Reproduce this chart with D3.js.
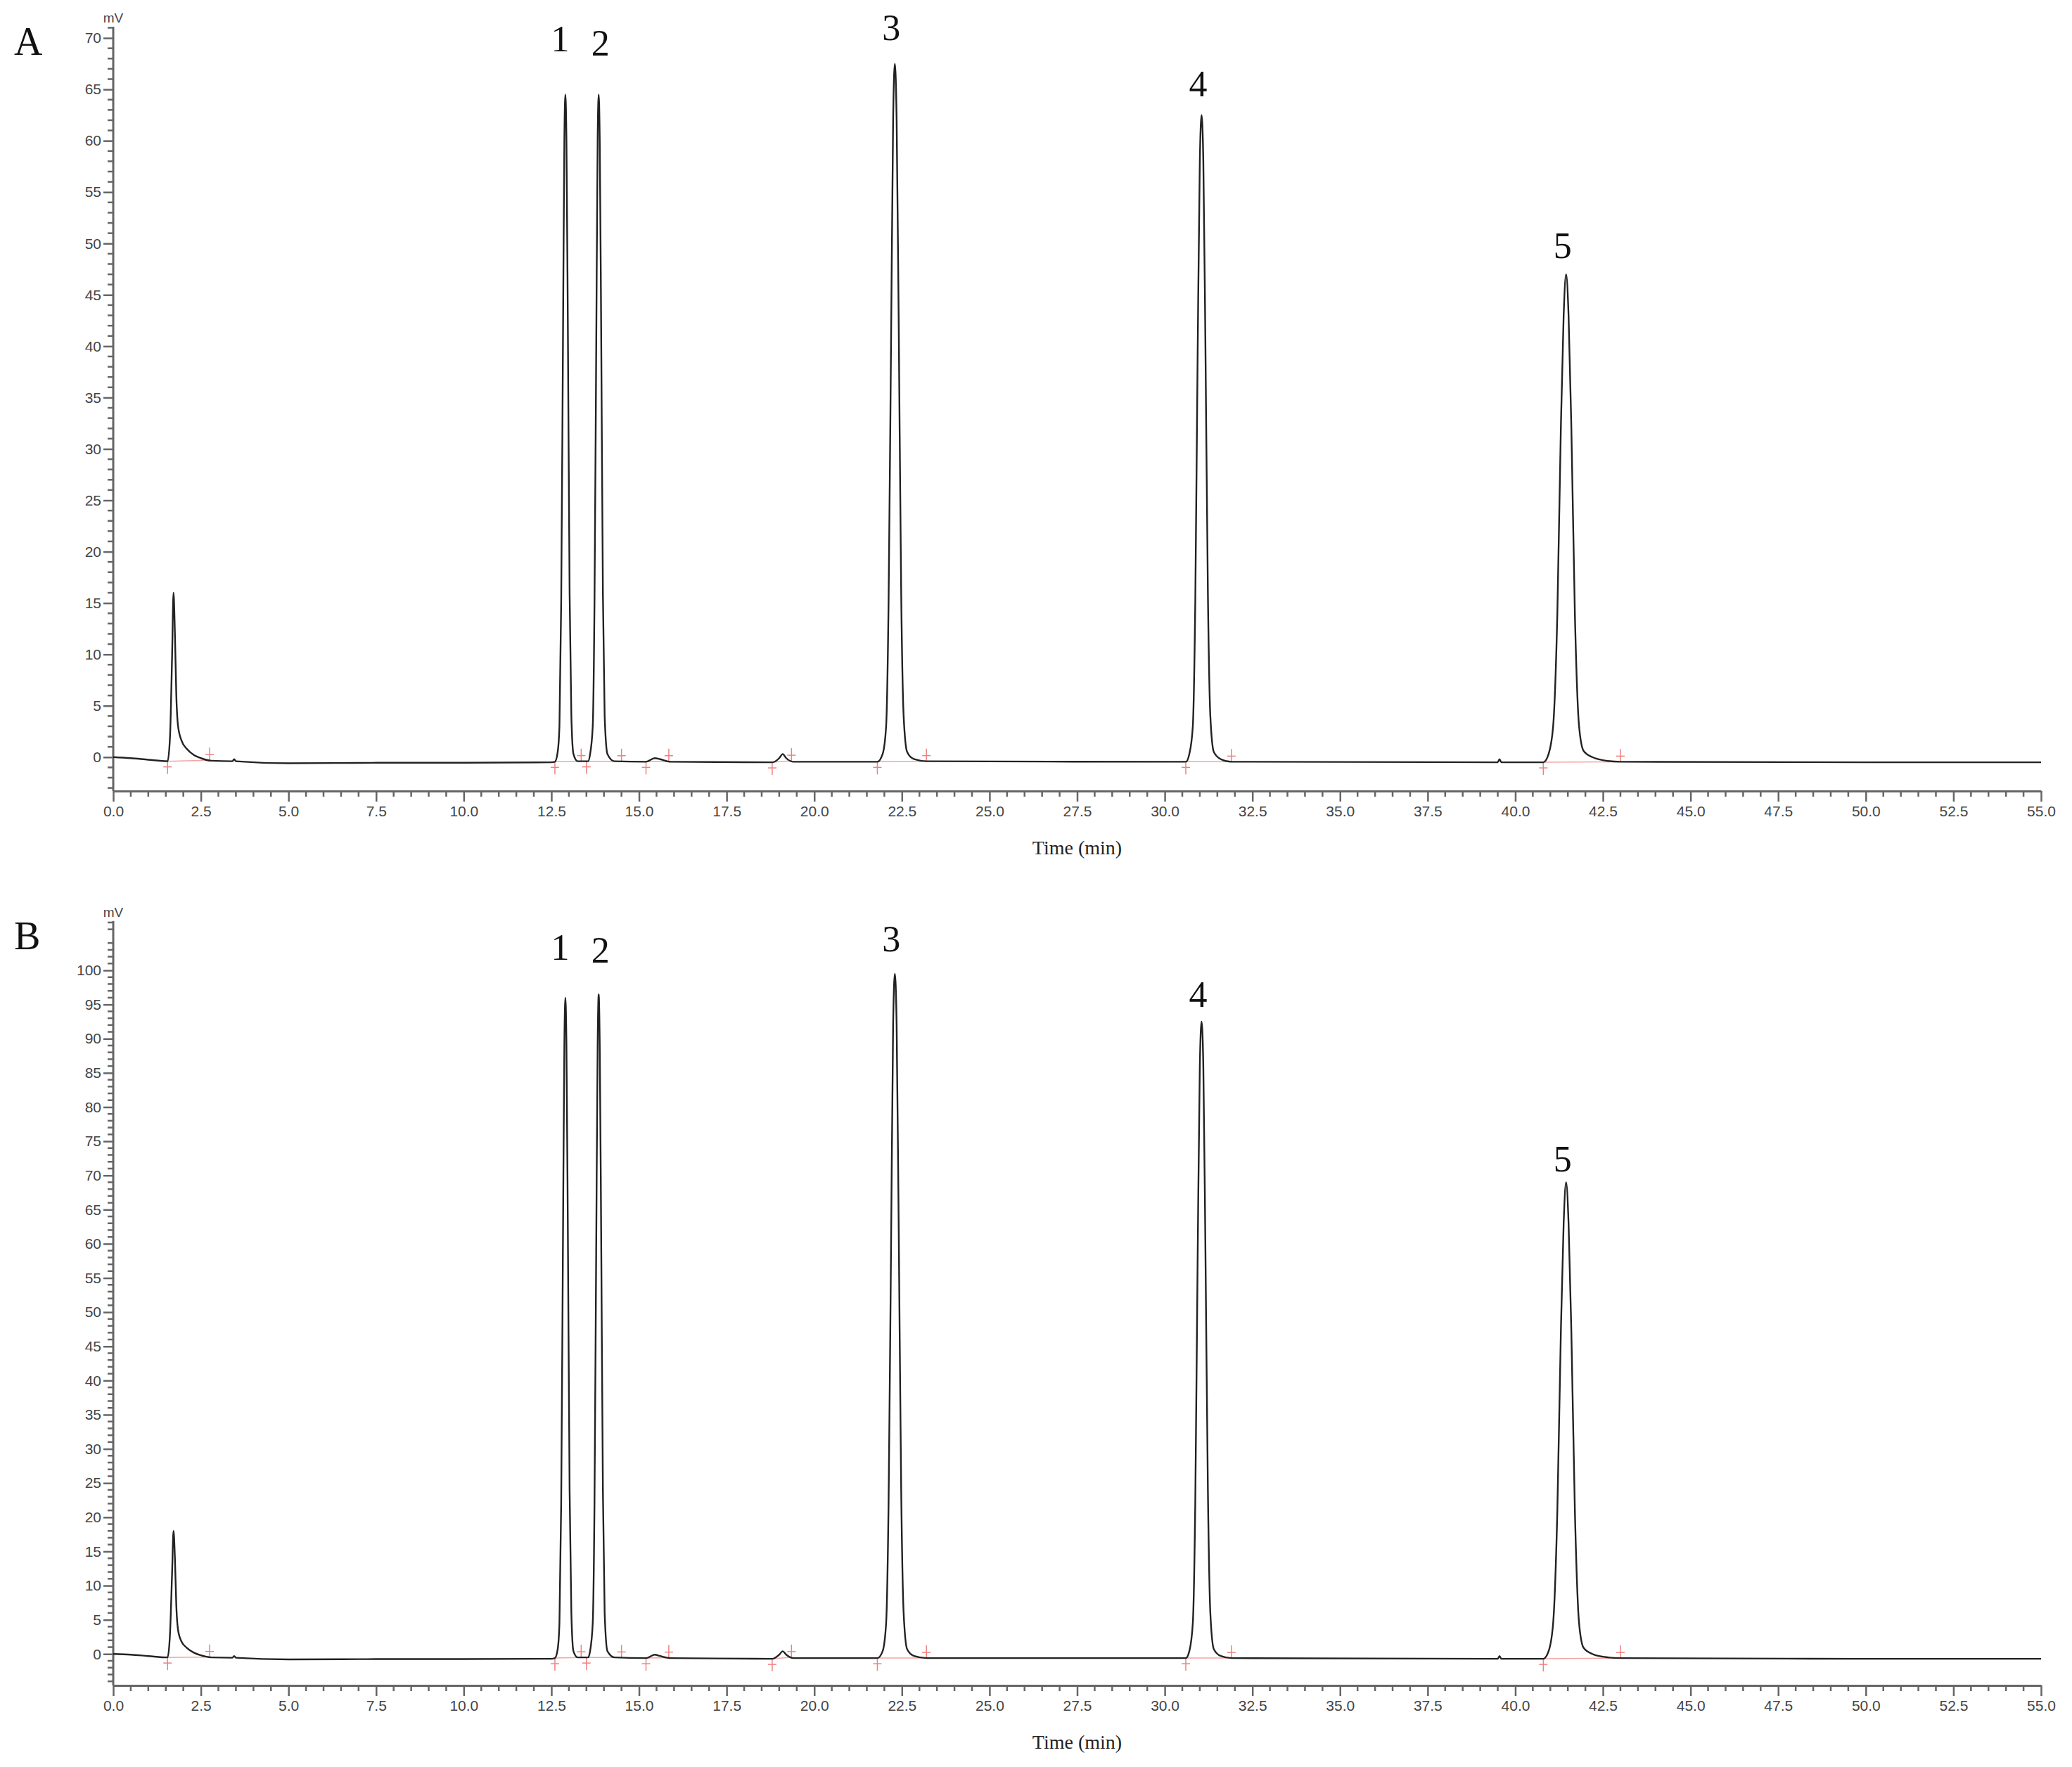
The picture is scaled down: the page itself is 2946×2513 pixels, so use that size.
<!DOCTYPE html>
<html>
<head>
<meta charset="utf-8">
<script src="https://cdn.jsdelivr.net/npm/d3@7"></script>
<style>
  body { margin: 0; background: #fff; }
  .tick text { font-family: "Liberation Sans", Arial, sans-serif; fill: #444; }
  .serif { font-family: "Liberation Serif", "Times New Roman", serif; }
</style>
</head>
<body>
<svg id="chart" width="2946" height="2513"></svg>
<script>
// trace points [time (min), mV]
const traceA = [[0,0],[0.5,-0.1],[1.0,-0.25],[1.55,-0.4],[1.62,2],[1.68,10],[1.72,16],[1.76,12],[1.8,6],[1.85,3],[1.95,1.6],[2.1,0.8],[2.3,0.2],[2.5,-0.1],[2.8,-0.35],[3.4,-0.4],[3.45,-0.2],[3.5,-0.4],[5,-0.6],[7.5,-0.55],[10,-0.55],[12.5,-0.5],
  [12.6,-0.45],[12.68,0.5],[12.73,3],[12.78,15],[12.83,40],[12.87,60],[12.9,64.5],[12.93,60],[12.97,42],[13.02,16],[13.07,4],[13.13,0.3],[13.25,-0.4],[13.55,-0.4],
  [13.6,0.2],[13.68,3],[13.73,15],[13.78,40],[13.82,60],[13.85,64.5],[13.88,60],[13.92,42],[13.97,16],[14.02,4],[14.1,0.3],[14.3,-0.4],[15.2,-0.45],[15.45,-0.1],[15.6,-0.2],[15.9,-0.45],[18.8,-0.5],[19.0,-0.1],[19.1,0.3],[19.2,-0.1],[19.4,-0.45],[21.8,-0.45],
  [21.95,0.3],[22.05,3],[22.12,15],[22.19,40],[22.25,62],[22.3,67.5],[22.35,62],[22.41,42],[22.48,16],[22.55,4],[22.65,0.5],[22.85,-0.2],[23.2,-0.4],
  [30.6,-0.45],[30.7,0.3],[30.8,3],[30.87,15],[30.94,40],[31.0,58],[31.05,62.5],[31.1,58],[31.16,40],[31.23,16],[31.3,4],[31.4,0.5],[31.6,-0.2],[31.9,-0.45],[39.5,-0.5],[39.55,-0.2],[39.6,-0.5],[40.8,-0.5],
  [40.95,0.3],[41.08,3],[41.2,14],[41.3,32],[41.38,43],[41.45,47],[41.52,43],[41.6,32],[41.7,14],[41.82,3],[41.95,0.6],[42.2,0],[42.5,-0.3],[43,-0.45],[50,-0.5],[55,-0.5]];

// trace points
const traceB = [[0,0],[0.5,-0.1],[1.0,-0.3],[1.55,-0.5],[1.62,3],[1.68,12],[1.72,18],[1.76,14],[1.8,7],[1.85,3.5],[1.95,1.8],[2.1,0.9],[2.3,0.2],[2.5,-0.2],[2.8,-0.5],[3.4,-0.55],[3.45,-0.3],[3.5,-0.55],[5,-0.8],[7.5,-0.75],[10,-0.75],[12.5,-0.7],
  [12.6,-0.6],[12.68,0.7],[12.73,4.5],[12.78,22],[12.83,60],[12.87,89],[12.9,96],[12.93,89],[12.97,62],[13.02,24],[13.07,6],[13.13,0.4],[13.25,-0.5],[13.55,-0.5],
  [13.6,0.3],[13.68,4.5],[13.73,22],[13.78,60],[13.82,89],[13.85,96.5],[13.88,89],[13.92,62],[13.97,24],[14.02,6],[14.1,0.4],[14.3,-0.5],[15.2,-0.6],[15.45,-0.1],[15.6,-0.3],[15.9,-0.6],[18.8,-0.7],[19.0,-0.1],[19.1,0.4],[19.2,-0.1],[19.4,-0.6],[21.8,-0.6],
  [21.95,0.4],[22.05,4.5],[22.12,22],[22.19,59],[22.25,92],[22.3,99.5],[22.35,92],[22.41,62],[22.48,24],[22.55,6],[22.65,0.7],[22.85,-0.3],[23.2,-0.6],
  [30.6,-0.6],[30.7,0.4],[30.8,4.5],[30.87,22],[30.94,59],[31.0,86],[31.05,92.5],[31.1,86],[31.16,59],[31.23,24],[31.3,6],[31.4,0.7],[31.6,-0.3],[31.9,-0.6],[39.5,-0.7],[39.55,-0.3],[39.6,-0.7],[40.8,-0.7],
  [40.95,0.4],[41.08,4.5],[41.2,21],[41.3,47],[41.38,63],[41.45,69],[41.52,63],[41.6,47],[41.7,21],[41.82,4.5],[41.95,0.9],[42.2,0],[42.5,-0.4],[43,-0.6],[50,-0.7],[55,-0.7]];

// integration marks: [start, end] times
const marksStart = [1.55, 12.6, 13.5, 15.2, 18.8, 21.8, 30.6, 40.8];
const marksEnd   = [2.75, 13.35, 14.5, 15.85, 19.35, 23.2, 31.9, 43.0];

const peakNames = ["1", "2", "3", "4", "5"];
const labelTimes = [12.75, 13.9, 22.2, 30.95, 41.35];
const labelA = [69.9, 69.5, 71.0, 65.5, 49.8];
const labelB = [103.3, 102.9, 104.6, 96.5, 72.4];

const svg = d3.select("#chart");

const x = d3.scaleLinear().domain([0, 55]).range([161, 2902]);

function panel(opts) {
  const y = d3.scaleLinear().domain(opts.domain).range([opts.bottom, opts.top]);
  const g = svg.append("g");

  // y axis
  const yAx = g.append("g")
    .attr("transform", "translate(161,0)")
    .call(d3.axisLeft(y).tickValues(d3.range(0, opts.maxTick + 1, 5)).tickSize(14).tickPadding(3).tickSizeOuter(0));
  yAx.select(".domain").attr("stroke", "#666").attr("stroke-width", 3)
    .attr("d", `M0,${opts.bottom}V${opts.top}`);
  yAx.selectAll(".tick line").attr("stroke", "#666").attr("stroke-width", 2.5);
  yAx.selectAll(".tick text").attr("font-size", 21);
  g.append("g").selectAll("line")
    .data(d3.range(Math.ceil(opts.domain[0]), opts.domain[1]).filter(d => d % 5 !== 0))
    .join("line")
    .attr("x1", 153).attr("x2", 161)
    .attr("y1", d => y(d)).attr("y2", d => y(d))
    .attr("stroke", "#666").attr("stroke-width", 2.5);

  // x axis
  const xAx = g.append("g")
    .attr("transform", `translate(0,${opts.bottom})`)
    .call(d3.axisBottom(x).tickValues(d3.range(0, 55.1, 2.5)).tickFormat(d3.format(".1f")).tickSize(15).tickPadding(6).tickSizeOuter(0));
  xAx.select(".domain").attr("stroke", "#666").attr("stroke-width", 3);
  xAx.selectAll(".tick line").attr("stroke", "#666").attr("stroke-width", 2.5);
  xAx.selectAll(".tick text").attr("font-size", 21);
  g.append("g").selectAll("line")
    .data(d3.range(0.5, 55, 0.5).filter(d => d % 2.5 !== 0))
    .join("line")
    .attr("x1", d => x(d)).attr("x2", d => x(d))
    .attr("y1", opts.bottom).attr("y2", opts.bottom + 8)
    .attr("stroke", "#666").attr("stroke-width", 2.5);

  g.append("text").attr("class", "serif")
    .attr("x", x(27.5)).attr("y", opts.bottom + 90)
    .attr("text-anchor", "middle").attr("font-size", 28).attr("fill", "#222")
    .text("Time (min)");
  g.append("text")
    .attr("x", 161).attr("y", opts.top - 6)
    .attr("text-anchor", "middle").attr("font-size", 19).attr("fill", "#444")
    .attr("font-family", "Liberation Sans, Arial, sans-serif")
    .text("mV");
  g.append("text").attr("class", "serif")
    .attr("x", 20).attr("y", opts.letterY)
    .attr("font-size", 56).attr("fill", "#111")
    .text(opts.letter);

  // integration baselines and markers
  const base = t => {
    const tr = opts.trace;
    const i = d3.bisector(d => d[0]).left(tr, t);
    const a = tr[Math.max(0, i - 1)], b = tr[Math.min(tr.length - 1, i)];
    return a[0] === b[0] ? a[1] : a[1] + (b[1] - a[1]) * (t - a[0]) / (b[0] - a[0]);
  };
  const red = "#f08080";
  marksStart.forEach((s, i) => {
    const e = marksEnd[i];
    g.append("line")
      .attr("x1", x(s)).attr("x2", x(e))
      .attr("y1", y(base(s))).attr("y2", y(base(e)))
      .attr("stroke", red).attr("stroke-width", 1.5).attr("opacity", 0.7);
    [[s, 1], [e, -1]].forEach(([t, dir]) => {
      const px = x(t), py = y(base(t));
      g.append("line").attr("x1", px).attr("x2", px)
        .attr("y1", py).attr("y2", py + dir * 18)
        .attr("stroke", red).attr("stroke-width", 1.5);
      g.append("line").attr("x1", px - 6).attr("x2", px + 6)
        .attr("y1", py + dir * 8).attr("y2", py + dir * 8)
        .attr("stroke", red).attr("stroke-width", 1.5);
    });
  });

  // trace
  g.append("path")
    .datum(opts.trace)
    .attr("fill", "none")
    .attr("stroke", "#222")
    .attr("stroke-width", 2.4)
    .attr("stroke-linejoin", "round")
    .attr("d", d3.line().x(d => x(d[0])).y(d => y(d[1])).curve(d3.curveMonotoneX));

  // peak numbers
  g.append("g").selectAll("text")
    .data(peakNames)
    .join("text")
    .attr("class", "serif")
    .attr("x", (d, i) => x(labelTimes[i]))
    .attr("y", (d, i) => y(opts.labels[i]))
    .attr("text-anchor", "middle").attr("dominant-baseline", "central")
    .attr("font-size", 52).attr("fill", "#111")
    .text(d => d);
}

panel({ trace: traceA, domain: [-3.3, 71.1], maxTick: 70, top: 38, bottom: 1125, labels: labelA, letter: "A", letterY: 78 });
panel({ trace: traceB, domain: [-4.6, 107.2], maxTick: 100, top: 1310, bottom: 2397, labels: labelB, letter: "B", letterY: 1350 });
</script>
</body>
</html>
